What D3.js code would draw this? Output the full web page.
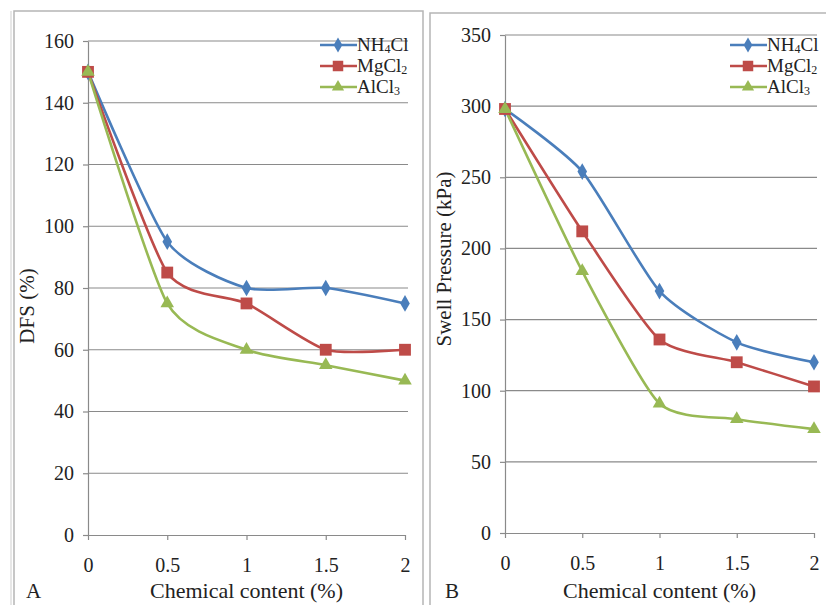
<!DOCTYPE html>
<html>
<head>
<meta charset="utf-8">
<script src="https://cdn.jsdelivr.net/npm/d3@7"></script>
<style>
  body { margin: 0; background: #fff; }
  .grid line { stroke: #8a8a8a; stroke-width: 1.2; }
  .axis path, .axis line { stroke: #8a8a8a; stroke-width: 1.2; }
  .frame { fill: none; stroke: #b5b5b5; stroke-width: 1.5; }
</style>
</head>
<body>
<svg width="826" height="605"></svg>
<script>
var serif = "Liberation Serif";

var xValues = [0, 0.5, 1, 1.5, 2];
var xTicks = [0, 0.5, 1, 1.5, 2];
var seriesNames = [["NH", "4", "Cl"], ["MgCl", "2", ""], ["AlCl", "3", ""]];
var seriesColors = ["#4a7ebb", "#be4b48", "#98b954"];
var seriesShapes = [d3.symbolDiamond, d3.symbolSquare, d3.symbolTriangle];

// panel A: DFS (%)
var dfsNH4Cl = [150, 95, 80, 80, 75];
var dfsMgCl2 = [150, 85, 75, 60, 60];
var dfsAlCl3 = [150, 75, 60, 55, 50];
var dfsTicks = [0, 20, 40, 60, 80, 100, 120, 140, 160];

// panel B: swell pressure (kPa)
var swellNH4Cl = [298, 254, 170, 134, 120];
var swellMgCl2 = [298, 212, 136, 120, 103];
var swellAlCl3 = [298, 184, 91, 80, 73];
var swellTicks = [0, 50, 100, 150, 200, 250, 300, 350];

var svg = d3.select("svg");

// panel frames
svg.append("rect").attr("class", "frame").attr("x", 14).attr("y", 11).attr("width", 409).attr("height", 610);
svg.append("line").attr("x1", 11).attr("x2", 11).attr("y1", 11).attr("y2", 605).attr("stroke", "#cfcfcf");
svg.append("rect").attr("class", "frame").attr("x", 430).attr("y", 13).attr("width", 420).attr("height", 610);

function drawPanel(opt) {
  var x = d3.scaleLinear().domain([0, 2]).range(opt.xRange);
  var y = d3.scaleLinear().domain([0, opt.yMax]).range(opt.yRange);
  var g = svg.append("g");

  // horizontal gridlines
  g.append("g").attr("class", "grid")
    .selectAll("line").data(opt.yTicks.slice(1)).enter().append("line")
      .attr("x1", x(0)).attr("x2", x(2) + 3)
      .attr("y1", function(d) { return y(d); })
      .attr("y2", function(d) { return y(d); });

  // y axis
  g.append("g").attr("class", "axis")
      .attr("transform", "translate(" + x(0) + ",0)")
      .call(d3.axisLeft(y).tickValues(opt.yTicks).tickSize(5).tickSizeOuter(0).tickPadding(9))
      .attr("font-family", serif).attr("font-size", 20)
      .call(function(a) { a.selectAll("text").attr("fill", "#222"); });

  // x axis
  g.append("g").attr("class", "axis")
      .attr("transform", "translate(0," + y(0) + ")")
      .call(d3.axisBottom(x).tickValues(xTicks).tickSize(5).tickSizeOuter(0).tickPadding(18)
        .tickFormat(function(d) { return d; }))
      .attr("font-family", serif).attr("font-size", 20)
      .call(function(a) { a.selectAll("text").attr("fill", "#222"); });

  // axis titles
  g.append("text")
      .attr("x", (x(0) + x(2)) / 2)
      .attr("y", 598)
      .attr("text-anchor", "middle")
      .attr("font-family", serif)
      .attr("font-size", 22)
      .attr("fill", "#222")
      .text("Chemical content (%)");

  g.append("text")
      .attr("transform", "translate(" + opt.yTitleX + "," + opt.yTitleY + ") rotate(-90)")
      .attr("text-anchor", "middle")
      .attr("font-family", serif)
      .attr("font-size", 21)
      .attr("fill", "#222")
      .text(opt.yTitle);

  g.append("text")
      .attr("x", opt.letterX)
      .attr("y", 598)
      .attr("font-family", serif)
      .attr("font-size", 21)
      .attr("fill", "#222")
      .text(opt.letter);

  // series
  var line = d3.line()
      .x(function(d, i) { return x(xValues[i]); })
      .y(function(d) { return y(d); })
      .curve(d3.curveCardinal.tension(0.35));

  opt.series.forEach(function(values, k) {
    g.append("path")
        .datum(values)
        .attr("fill", "none")
        .attr("stroke", seriesColors[k])
        .attr("stroke-width", 2.6)
        .attr("d", line);
  });

  opt.series.forEach(function(values, k) {
    g.selectAll(".m" + k).data(values).enter().append("path")
        .attr("transform", function(d, i) { return "translate(" + x(xValues[i]) + "," + y(d) + ")"; })
        .attr("fill", seriesColors[k])
        .attr("d", d3.symbol().type(seriesShapes[k]).size(k === 1 ? 140 : 80));
  });

  // legend
  var leg = g.append("g").attr("transform", "translate(" + opt.legX + "," + opt.legY + ")");
  seriesNames.forEach(function(name, k) {
    var row = leg.append("g").attr("transform", "translate(0," + k * 21 + ")");
    row.append("line").attr("x1", 0).attr("x2", 37).attr("stroke", seriesColors[k]).attr("stroke-width", 2.6);
    row.append("path").attr("transform", "translate(18,0)").attr("fill", seriesColors[k])
        .attr("d", d3.symbol().type(seriesShapes[k]).size(k === 1 ? 110 : 65));
    var t = row.append("text").attr("x", 37).attr("y", 6)
        .attr("font-family", serif).attr("font-size", 19).attr("fill", "#222");
    t.append("tspan").text(name[0]);
    t.append("tspan").attr("font-size", 12).attr("dy", 2).text(name[1]);
    t.append("tspan").attr("dy", -2).text(name[2]);
  });
}

drawPanel({
  xRange: [88, 405], yRange: [535, 41], yMax: 160, yTicks: dfsTicks,
  series: [dfsNH4Cl, dfsMgCl2, dfsAlCl3],
  yTitle: "DFS (%)", yTitleX: 34, yTitleY: 306,
  letter: "A", letterX: 26,
  legX: 320, legY: 45
});

drawPanel({
  xRange: [505, 814], yRange: [533, 35], yMax: 350, yTicks: swellTicks,
  series: [swellNH4Cl, swellMgCl2, swellAlCl3],
  yTitle: "Swell Pressure (kPa)", yTitleX: 451, yTitleY: 259,
  letter: "B", letterX: 445,
  legX: 730, legY: 45
});
</script>
</body>
</html>
